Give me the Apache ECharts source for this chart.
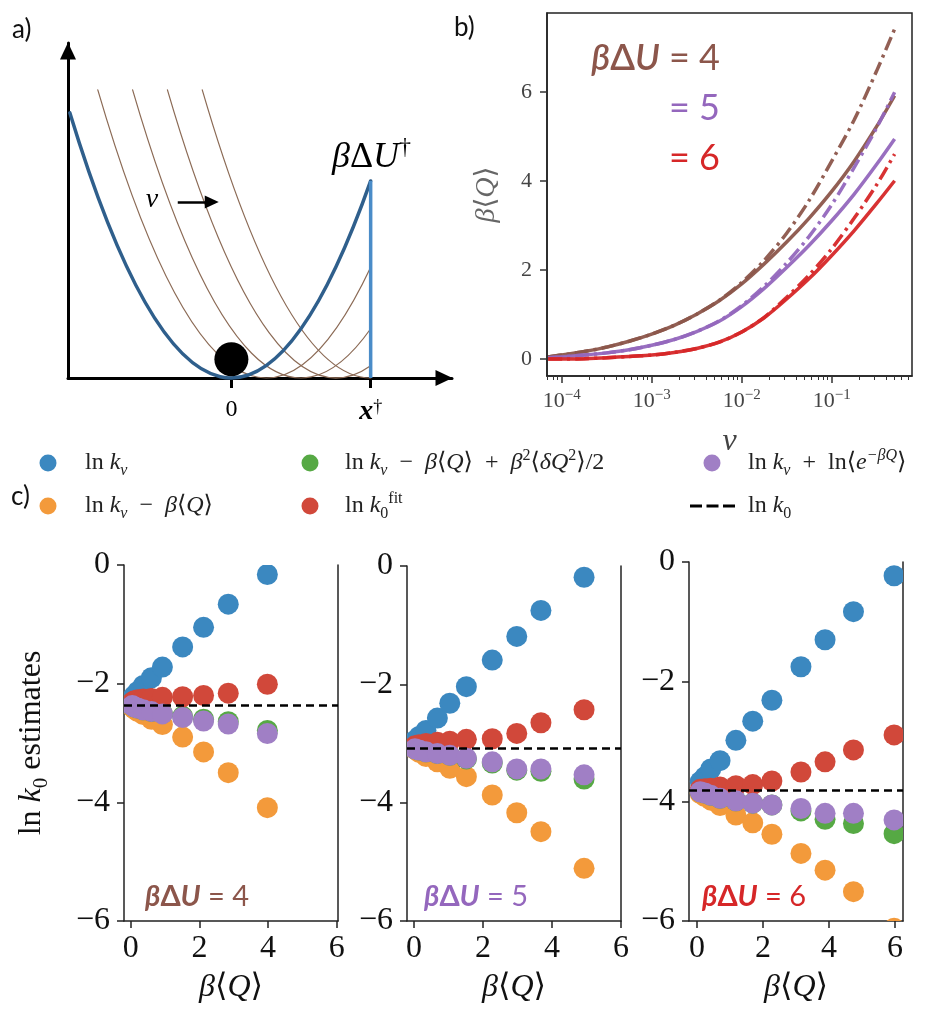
<!DOCTYPE html>
<html>
<head>
<meta charset="utf-8">
<script src="https://cdn.jsdelivr.net/npm/echarts@6/dist/echarts.min.js"></script>
<style>
  html, body { margin: 0; padding: 0; background: #fff; }
  #chart { width: 925px; height: 1019px; }
</style>
</head>
<body>
<div id="chart"></div>
<script>
// ---------------- panel a: trap potentials (schematic) ----------------
const baseWell = [[0, -1.16, 1]];              // [centre, x start, x end] of the bound well
const movingCentres = [0.25, 0.5, 0.75, 1.0];  // minima of the dragged trap
const movingTopU = 1.462;                      // height where the dragged traps are cut
const barrierX = 1;                            // x-dagger
const barrierLine = [[1, 0], [1, 1]];
const ballPos = [[0, 0.095]];
const vArrow = [[-0.385, 0.893], [-0.141, 0.893]];

// ---------------- panel b: mean dissipated work vs pulling speed ----------------
const vValues = [7.08e-5, 1e-4, 1.78e-4, 3.16e-4, 5.62e-4, 1e-3, 1.78e-3, 3.16e-3, 5.62e-3,
                 1e-2, 1.78e-2, 3.16e-2, 5.62e-2, 0.1, 0.178, 0.316, 0.5];
const workU4Solid   = [0.05, 0.09, 0.17, 0.27, 0.40, 0.56, 0.76, 1.01, 1.31, 1.69, 2.14, 2.63, 3.17, 3.77, 4.45, 5.23, 5.92];
const workU4Dashdot = [0.05, 0.09, 0.17, 0.27, 0.40, 0.56, 0.76, 1.01, 1.32, 1.72, 2.22, 2.83, 3.57, 4.45, 5.38, 6.48, 7.42];
const workU5Solid   = [0.03, 0.05, 0.09, 0.14, 0.21, 0.31, 0.44, 0.62, 0.85, 1.18, 1.59, 2.06, 2.56, 3.11, 3.71, 4.38, 4.95];
const workU5Dashdot = [0.03, 0.05, 0.09, 0.14, 0.21, 0.31, 0.44, 0.62, 0.86, 1.20, 1.64, 2.16, 2.76, 3.47, 4.31, 5.20, 6.00];
const workU6Solid   = [0.00, 0.00, 0.01, 0.03, 0.06, 0.09, 0.15, 0.24, 0.38, 0.61, 0.93, 1.35, 1.81, 2.33, 2.89, 3.50, 4.01];
const workU6Dashdot = [0.00, 0.00, 0.01, 0.03, 0.06, 0.09, 0.15, 0.24, 0.38, 0.61, 0.94, 1.39, 1.89, 2.48, 3.17, 3.92, 4.61];
const vMajorTicks = [1e-4, 1e-3, 1e-2, 1e-1];
const workTicks = [0, 2, 4, 6];

// ---------------- panel c: ln k0 estimates vs beta<Q> ----------------
const qU4   = [0.04, 0.10, 0.20, 0.36, 0.60, 0.92, 1.51, 2.12, 2.84, 3.98];
const kvU4  = [-2.25, -2.20, -2.13, -2.03, -1.90, -1.72, -1.38, -1.05, -0.66, -0.16];
const kvQU4 = [-2.39, -2.43, -2.47, -2.52, -2.60, -2.69, -2.90, -3.15, -3.50, -4.09];
const cumU4 = [-2.37, -2.39, -2.41, -2.44, -2.47, -2.50, -2.55, -2.60, -2.64, -2.79];
const fitU4 = [-2.31, -2.29, -2.27, -2.26, -2.25, -2.23, -2.22, -2.20, -2.16, -2.01];
const jarU4 = [-2.37, -2.39, -2.41, -2.44, -2.47, -2.51, -2.57, -2.63, -2.68, -2.84];

const qU5   = [0.03, 0.15, 0.35, 0.68, 1.04, 1.52, 2.27, 2.98, 3.68, 4.93];
const kvU5  = [-2.95, -2.88, -2.78, -2.57, -2.32, -2.04, -1.59, -1.19, -0.75, -0.19];
const kvQU5 = [-3.10, -3.15, -3.22, -3.31, -3.42, -3.56, -3.87, -4.17, -4.49, -5.11];
const cumU5 = [-3.09, -3.11, -3.14, -3.17, -3.20, -3.26, -3.33, -3.45, -3.47, -3.60];
const fitU5 = [-3.04, -3.02, -3.00, -2.98, -2.96, -2.93, -2.92, -2.83, -2.65, -2.43];
const jarU5 = [-3.09, -3.11, -3.14, -3.17, -3.20, -3.25, -3.31, -3.43, -3.43, -3.53];

const qU6   = [0.10, 0.24, 0.42, 0.70, 1.18, 1.69, 2.27, 3.15, 3.88, 4.74, 5.97];
const kvU6  = [-3.67, -3.59, -3.46, -3.32, -2.98, -2.66, -2.31, -1.75, -1.30, -0.83, -0.23];
const kvQU6 = [-3.87, -3.92, -3.98, -4.07, -4.23, -4.36, -4.55, -4.87, -5.15, -5.51, -6.12];
const cumU6 = [-3.84, -3.86, -3.90, -3.95, -3.99, -4.03, -4.06, -4.16, -4.30, -4.37, -4.54];
const fitU6 = [-3.80, -3.79, -3.78, -3.76, -3.74, -3.72, -3.66, -3.51, -3.34, -3.14, -2.89];
const jarU6 = [-3.84, -3.86, -3.90, -3.95, -3.99, -4.03, -4.06, -4.12, -4.20, -4.20, -4.31];

const lnK0 = [-2.37, -3.08, -3.81];
const barrierLabels = ['4', '5', '6'];
const qTicks = [0, 2, 4, 6];

// ---------------- styling ----------------
const SERIF = "'Liberation Serif','DejaVu Serif',serif";
const SANS = "Lato,'Open Sans','DejaVu Sans',sans-serif";
const BROWN = '#8c564b', PURPLE = '#9467bd', RED = '#d62728';
const estColors = { kv: '#3b88c0', kvQ: '#f39a3b', cum: '#56a944', fit: '#d1483a', jar: '#a07fc5' };
const estKeys = ['kv', 'kvQ', 'cum', 'fit', 'jar'];

function mathRich(size, color) {
  const s = Math.round(size * 0.66);
  const c = color || '#111';
  return {
    rm:  { fontFamily: SERIF, fontSize: size, lineHeight: size * 1.3, color: c, fill: c },
    it:  { fontFamily: SERIF, fontSize: size, fontStyle: 'italic', lineHeight: size * 1.3, color: c, fill: c },
    sub: { fontFamily: SERIF, fontSize: s, verticalAlign: 'bottom', lineHeight: s * 1.25, color: c, fill: c },
    subi:{ fontFamily: SERIF, fontSize: s, fontStyle: 'italic', verticalAlign: 'bottom', lineHeight: s * 1.25, color: c, fill: c },
    sup: { fontFamily: SERIF, fontSize: s, verticalAlign: 'top', lineHeight: s * 1.25, color: c, fill: c },
    supi:{ fontFamily: SERIF, fontSize: s, fontStyle: 'italic', verticalAlign: 'top', lineHeight: s * 1.25, color: c, fill: c }
  };
}
const minusFmt = v => (v < 0 ? '\u2212' + (-v) : String(v));

// ---------------- grids ----------------
const grids = [
  { left: 68,  top: 43,  width: 384, height: 335 },                                  // a
  { left: 547, top: 13,  width: 365, height: 363, show: true, borderColor: '#222', borderWidth: 1.5, backgroundColor: 'transparent' }, // b
  { left: 124, top: 565, width: 214, height: 356 },                                  // c, dU=4
  { left: 407, top: 566, width: 214, height: 355 },                                  // c, dU=5
  { left: 689, top: 562, width: 214, height: 359 }                                   // c, dU=6
];
const qRanges = [[-0.2, 6.04], [-0.2, 6.0], [-0.24, 6.24]];

// minor ticks of the log axis
const vMinorTicks = [];
for (let d = -5; d <= -1; d++) for (let m = 2; m <= 9; m++) {
  const t = m * Math.pow(10, d);
  if (t > 6.87e-5 && t < 0.78) vMinorTicks.push(t);
}

const xAxes = [
  // panel a
  { gridIndex: 0, type: 'value', min: -1.173, max: 1.584, position: 'bottom',
    axisLine: { show: true, onZero: false, symbol: ['none', 'triangle'], symbolSize: [16, 17], symbolOffset: [0, -8],
                lineStyle: { color: '#000', width: 3 } },
    axisTick: { show: true, customValues: [0, barrierX], length: 10, lineStyle: { color: '#000', width: 3 } },
    axisLabel: { show: true, customValues: [0, barrierX], margin: 20,
      formatter: v => (v === 0 ? '{n|0}' : '{x|x}{d|\u2020}'),
      rich: { n: { fontFamily: SERIF, fontSize: 24, color: '#000' },
              x: { fontFamily: SERIF, fontSize: 28, fontStyle: 'italic', fontWeight: 'bold', color: '#000' },
              d: { fontFamily: SERIF, fontSize: 18, verticalAlign: 'top', lineHeight: 20, color: '#000' } } },
    splitLine: { show: false } },
  { gridIndex: 0, type: 'value', min: -1.173, max: 1.584, position: 'bottom',
    axisLine: { show: false, onZero: false },
    axisTick: { show: true, inside: true, customValues: [barrierX], length: 16, lineStyle: { color: '#000', width: 3 } },
    axisLabel: { show: false }, splitLine: { show: false } },
  // panel b
  { gridIndex: 1, type: 'log', logBase: 10, min: 6.87e-5, max: 0.78, position: 'bottom',
    name: 'v', nameLocation: 'middle', nameGap: 50,
    nameTextStyle: { fontFamily: SERIF, fontStyle: 'italic', fontSize: 32, color: '#444' },
    axisLine: { show: true, onZero: false, lineStyle: { color: '#222', width: 1.5 } },
    axisTick: { show: true, customValues: vMajorTicks, length: 7, lineStyle: { color: '#333', width: 1.5 } },
    axisLabel: { show: true, customValues: vMajorTicks, margin: 12, color: '#444',
      formatter: v => '{b|10}{s|\u2212' + Math.round(-Math.log10(v)) + '}',
      rich: { b: { fontFamily: SERIF, fontSize: 22, color: '#444', lineHeight: 26 },
              s: { fontFamily: SERIF, fontSize: 15, color: '#444', verticalAlign: 'top', lineHeight: 15 } } },
    splitLine: { show: false } },
  { gridIndex: 1, type: 'log', logBase: 10, min: 6.87e-5, max: 0.78, position: 'bottom',
    axisLine: { show: false, onZero: false },
    axisTick: { show: true, customValues: vMinorTicks, length: 4, lineStyle: { color: '#333', width: 1 } },
    axisLabel: { show: false }, splitLine: { show: false } }
];
const yAxes = [
  // panel a
  { gridIndex: 0, type: 'value', min: 0, max: 1.70,
    axisLine: { show: true, onZero: false, symbol: ['none', 'triangle'], symbolSize: [16, 17], symbolOffset: [0, -8],
                lineStyle: { color: '#000', width: 3 } },
    axisTick: { show: false }, axisLabel: { show: false }, splitLine: { show: false } },
  // panel b
  { gridIndex: 1, type: 'value', min: -0.38, max: 7.78,
    name: '{it|\u03b2}{rm|\u27e8}{it|Q}{rm|\u27e9}', nameLocation: 'middle', nameGap: 42,
    nameTextStyle: { rich: mathRich(28, '#666') },
    axisLine: { show: true, onZero: false, lineStyle: { color: '#222', width: 1.5 } },
    axisTick: { show: true, customValues: workTicks, length: 7, lineStyle: { color: '#333', width: 1.5 } },
    axisLabel: { show: true, customValues: workTicks, margin: 15, fontFamily: SERIF, fontSize: 22, color: '#444' },
    splitLine: { show: false } }
];

// panel c axes
for (let p = 0; p < 3; p++) {
  xAxes.push({
    gridIndex: 2 + p, type: 'value', min: qRanges[p][0], max: qRanges[p][1], position: 'bottom',
    name: '{it|\u03b2}{rm|\u27e8}{it|Q}{rm|\u27e9}', nameLocation: 'middle', nameGap: 46,
    nameTextStyle: { rich: mathRich(32) },
    axisLine: { show: true, onZero: false, lineStyle: { color: '#222', width: 1.5 } },
    axisTick: { show: true, customValues: qTicks, length: 7, lineStyle: { color: '#222', width: 1.5 } },
    axisLabel: { show: true, customValues: qTicks, margin: 12, fontFamily: SERIF, fontSize: 32, color: '#111' },
    splitLine: { show: false }
  });
}
for (let p = 0; p < 3; p++) {
  const ax = {
    gridIndex: 2 + p, type: 'value', min: -6, max: 0, interval: 2, position: 'left',
    axisLine: { show: true, onZero: false, lineStyle: { color: '#222', width: 1.5 } },
    axisTick: { show: true, length: 7, lineStyle: { color: '#222', width: 1.5 } },
    axisLabel: { show: true, margin: 14, fontFamily: SERIF, fontSize: 32, color: '#111', formatter: minusFmt },
    splitLine: { show: false }
  };
  if (p === 0) {
    ax.name = '{rm|ln }{it|k}{sub|0}{rm| estimates}';
    ax.nameLocation = 'middle';
    ax.nameGap = 72;
    ax.nameTextStyle = { rich: mathRich(32) };
  }
  yAxes.push(ax);
}
// right-hand spines of the panel c frames
for (let p = 0; p < 3; p++) {
  yAxes.push({
    gridIndex: 2 + p, type: 'value', min: -6, max: 0, position: 'right',
    axisLine: { show: true, onZero: false, lineStyle: { color: '#222', width: 1.5 } },
    axisTick: { show: false }, axisLabel: { show: false }, splitLine: { show: false }
  });
}

// ---------------- series ----------------
function wellItem(stroke, width) {
  return function (params, api) {
    const c = api.value(0), a = api.value(1), b = api.value(2);
    // a parabola segment is exactly a quadratic Bezier curve
    const p0 = api.coord([a, (a - c) * (a - c)]);
    const p1 = api.coord([(a + b) / 2, (a - c) * (b - c)]);
    const p2 = api.coord([b, (b - c) * (b - c)]);
    return {
      type: 'bezierCurve',
      shape: { x1: p0[0], y1: p0[1], cpx1: p1[0], cpy1: p1[1], x2: p2[0], y2: p2[1] },
      style: { fill: null, stroke: stroke, lineWidth: width, lineCap: 'round' }
    };
  };
}
const movingWells = movingCentres.map(c => [c, c - Math.sqrt(movingTopU), barrierX]);

const series = [
  { type: 'custom', xAxisIndex: 0, yAxisIndex: 0, data: movingWells, renderItem: wellItem('#8b6a55', 1.2), silent: true, clip: false },
  { type: 'custom', xAxisIndex: 0, yAxisIndex: 0, data: baseWell, renderItem: wellItem('#2f5f8c', 3.5), silent: true, clip: false },
  { type: 'line', xAxisIndex: 0, yAxisIndex: 0, data: barrierLine, showSymbol: false, silent: true,
    lineStyle: { color: '#4a8cc8', width: 3.5 } },
  { type: 'scatter', xAxisIndex: 0, yAxisIndex: 0, data: ballPos, symbolSize: 34,
    itemStyle: { color: '#000', opacity: 1 }, silent: true },
  { type: 'line', xAxisIndex: 0, yAxisIndex: 0, data: [], silent: true,
    markLine: { silent: true, symbol: ['none', 'triangle'], symbolSize: [13, 14], label: { show: false },
      lineStyle: { color: '#000', width: 2.5, type: 'solid' },
      data: [[{ coord: vArrow[0] }, { coord: vArrow[1] }]] } }
];

// panel b curves
const workCurves = [
  [workU4Solid, BROWN, 'solid'], [workU4Dashdot, BROWN, 'dashdot'],
  [workU5Solid, PURPLE, 'solid'], [workU5Dashdot, PURPLE, 'dashdot'],
  [workU6Solid, RED, 'solid'], [workU6Dashdot, RED, 'dashdot']
];
workCurves.forEach(([ys, col, kind]) => {
  series.push({
    type: 'line', xAxisIndex: 2, yAxisIndex: 1, showSymbol: false, silent: true,
    smooth: 0.3,
    data: vValues.map((v, i) => [v, ys[i]]),
    lineStyle: { color: col, width: 3.5, type: kind === 'solid' ? 'solid' : [14, 5, 3, 5], cap: 'butt', opacity: 0.95 }
  });
});

// panel c estimates
const panelData = [
  { q: qU4, kv: kvU4, kvQ: kvQU4, cum: cumU4, fit: fitU4, jar: jarU4 },
  { q: qU5, kv: kvU5, kvQ: kvQU5, cum: cumU5, fit: fitU5, jar: jarU5 },
  { q: qU6, kv: kvU6, kvQ: kvQU6, cum: cumU6, fit: fitU6, jar: jarU6 }
];
function dotItem(params, api) {
  const pt = api.coord([api.value(0), api.value(1)]);
  return { type: 'circle', shape: { cx: pt[0], cy: pt[1], r: 10.5 }, style: { fill: api.visual('color') } };
}
panelData.forEach((pd, p) => {
  estKeys.forEach(key => {
    series.push({
      name: key, type: 'custom', xAxisIndex: 4 + p, yAxisIndex: 2 + p, clip: true, silent: true,
      itemStyle: { color: estColors[key] },
      encode: { x: 0, y: 1 },
      data: pd.q.map((q, i) => [q, pd[key][i]]),
      renderItem: dotItem
    });
  });
  series.push({
    name: 'k0', type: 'line', xAxisIndex: 4 + p, yAxisIndex: 2 + p, data: [], silent: true,
    markLine: { silent: true, symbol: ['none', 'none'], label: { show: false },
      lineStyle: { color: '#000', width: 2.5, type: [8, 5] },
      data: [{ yAxis: lnK0[p] }] }
  });
});

// ---------------- key for panel c ----------------
const SP = '\u2002';
const legendText = {
  kv:  '{rm|ln }{it|k}{subi|v}',
  kvQ: '{rm|ln }{it|k}{subi|v}{rm|' + SP + '\u2212' + SP + '}{it|\u03b2}{rm|\u27e8}{it|Q}{rm|\u27e9}',
  cum: '{rm|ln }{it|k}{subi|v}{rm|' + SP + '\u2212' + SP + '}{it|\u03b2}{rm|\u27e8}{it|Q}{rm|\u27e9' + SP + '+' + SP + '}{it|\u03b2}{sup|2}{rm|\u27e8}{it|\u03b4Q}{sup|2}{rm|\u27e9/2}',
  fit: '{rm|ln }{it|k}{sub|0}{sup|fit}',
  jar: '{rm|ln }{it|k}{subi|v}{rm|' + SP + '+' + SP + 'ln\u27e8}{it|e}{supi|\u2212\u03b2Q}{rm|\u27e9}',
  k0:  '{rm|ln }{it|k}{sub|0}'
};
const keyRows = [463, 506];
const keyCols = [[48, 85], [310, 345], [712, 748]];
const keyLayout = [['kv', 'kvQ'], ['cum', 'fit'], ['jar', 'k0']];
const keyGraphic = [];
keyLayout.forEach((col, ci) => {
  col.forEach((key, ri) => {
    const y = keyRows[ri];
    if (key === 'k0') {
      keyGraphic.push({ type: 'line', shape: { x1: 690, y1: y, x2: 735, y2: y },
        style: { stroke: '#000', lineWidth: 3, lineDash: [12, 4.5] } });
    } else {
      keyGraphic.push({ type: 'circle', shape: { cx: keyCols[ci][0], cy: y, r: 8.5 }, style: { fill: estColors[key] } });
    }
    keyGraphic.push({ type: 'text', x: keyCols[ci][1], y: y,
      style: { text: legendText[key], verticalAlign: 'middle', rich: mathRich(24, '#222') } });
  });
});

// ---------------- annotations ----------------
const sansRich = (size, color, weight) => ({
  it: { fontFamily: SANS, fontSize: size, fontStyle: 'italic', fontWeight: weight, fill: color, color: color },
  rm: { fontFamily: SANS, fontSize: size, fontWeight: weight, fill: color, color: color },
  tx: { fontFamily: SANS, fontSize: size, fill: color, color: color }
});
const graphic = [
  { type: 'text', x: 12, y: 30, style: { text: 'a)', font: `26px ${SANS}`, fill: '#111', verticalAlign: 'middle' } },
  { type: 'text', x: 454, y: 28, style: { text: 'b)', font: `26px ${SANS}`, fill: '#111', verticalAlign: 'middle' } },
  { type: 'text', x: 11, y: 497, style: { text: 'c)', font: `26px ${SANS}`, fill: '#111', verticalAlign: 'middle' } },
  { type: 'text', x: 332, y: 158, style: {
      text: '{it|\u03b2}{rm|\u0394}{it|U}{sup|\u2020}', verticalAlign: 'middle',
      rich: {
        it: { fontFamily: SERIF, fontSize: 36, fontStyle: 'italic', fill: '#000', lineHeight: 44 },
        rm: { fontFamily: SERIF, fontSize: 36, fill: '#000', lineHeight: 44 },
        sup: { fontFamily: SERIF, fontSize: 24, fill: '#000', verticalAlign: 'top', lineHeight: 26 }
      } } },
  { type: 'text', x: 152, y: 200, style: { text: 'v', font: `italic 28px ${SERIF}`, fill: '#000', align: 'center', verticalAlign: 'middle' } },
  // panel b key
  { type: 'text', x: 720, y: 58, style: { text: '{it|\u03b2}{rm|\u0394}{it|U}{tx| = 4}', align: 'right', verticalAlign: 'middle', rich: sansRich(36, BROWN, 600) } },
  { type: 'text', x: 720, y: 108, style: { text: '{tx|= 5}', align: 'right', verticalAlign: 'middle', rich: sansRich(36, PURPLE, 600) } },
  { type: 'text', x: 720, y: 158, style: { text: '{tx|= 6}', align: 'right', verticalAlign: 'middle', rich: sansRich(36, RED, 600) } }
].concat(keyGraphic);
const cLabelX = [145, 424, 702];
const cLabelCol = [BROWN, PURPLE, RED];
for (let p = 0; p < 3; p++) {
  graphic.push({ type: 'text', x: cLabelX[p], y: 897, style: {
    text: '{it|\u03b2}{rm|\u0394}{it|U}{tx| = ' + barrierLabels[p] + '}', verticalAlign: 'middle',
    rich: sansRich(29, cLabelCol[p], 'bold') } });
}

const chart = echarts.init(document.getElementById('chart'), null, { renderer: 'canvas' });
chart.setOption({
  animation: false,
  backgroundColor: '#fff',
  grid: grids,
  xAxis: xAxes,
  yAxis: yAxes,
  graphic: graphic,
  series: series
});
</script>
</body>
</html>
